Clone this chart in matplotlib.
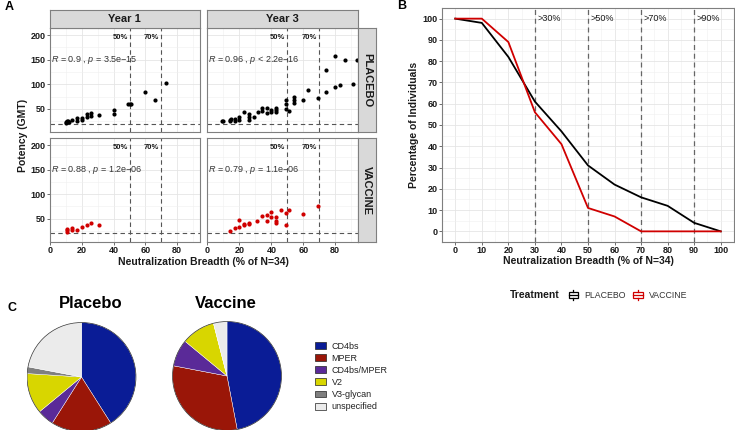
import numpy as np
import matplotlib
matplotlib.use('Agg')
import matplotlib.pyplot as plt
from matplotlib.patches import Patch, Rectangle, Circle
from matplotlib.lines import Line2D
from matplotlib.legend_handler import HandlerBase

plt.rcParams['font.family'] = ['Liberation Sans', 'DejaVu Sans']
plt.rcParams['mathtext.fontset'] = 'custom'
plt.rcParams['mathtext.rm'] = 'Liberation Sans'
plt.rcParams['mathtext.it'] = 'Liberation Sans:italic'

# --- panel A data (breadth %, potency GMT) ---
y1_pla_x = [10, 10, 10.5, 11, 11.5, 12, 14, 17, 17, 20, 20, 23, 23, 26, 26, 31, 40, 40, 49, 50, 51, 60, 66, 73]
y1_pla_y = [22, 24, 25, 23, 26, 24, 28, 31, 26, 32, 27, 39, 33, 41, 36, 38, 48, 40, 59, 59, 59, 85, 69, 102]
y3_pla_x = [9, 10, 14, 15, 14, 17, 17, 20, 20, 23, 26, 26, 26, 29, 31.5, 34, 34, 37, 37, 40, 40, 43, 43, 43,
            49, 49, 49, 51, 54, 54, 54, 60, 63, 69, 74, 74, 80, 80, 83, 86, 91, 93.5]
y3_pla_y = [25, 25, 27, 28.5, 25, 30, 26, 33, 27, 44, 40, 34, 27, 34, 43, 51, 45, 51, 42, 48, 44, 52, 48, 44,
            67, 60, 49, 45, 74, 67, 62, 69, 89, 73, 85, 129, 157, 94, 98, 149, 100, 149]
y1_vac_x = [11, 11, 11, 14, 14, 17, 20, 23, 26, 31]
y1_vac_y = [27, 24, 29, 31, 28, 27, 34, 38, 41, 38]
y3_vac_x = [14, 17, 20, 20, 23, 23, 26, 26, 31, 34, 37, 37, 40, 40, 43, 43, 43, 46, 49, 49, 51, 60, 69]
y3_vac_y = [26, 32, 34, 48, 37, 40, 39, 41, 46, 56, 58, 45, 63, 53, 53, 46, 41, 68, 62, 38, 67, 59, 75]
stat_labels = [["$R$ = 0.9 , $p$ = 3.5e\u221215", "$R$ = 0.96 , $p$ < 2.2e\u221216"],
               ["$R$ = 0.88 , $p$ = 1.2e\u221206", "$R$ = 0.79 , $p$ = 1.1e\u221206"]]
year_labels = ['Year 1', 'Year 3']
group_labels = ['PLACEBO', 'VACCINE']

# --- panel B data ---
breadth = [0, 10, 20, 30, 40, 50, 60, 70, 80, 90, 100]
pct_placebo = [100, 98, 82, 61, 47, 31, 22, 16, 12, 4, 0]
pct_vaccine = [100, 100, 89, 56, 41, 11, 7, 0, 0, 0, 0]
cut_lines = [30, 50, 70, 90]

# --- panel C data ---
pie_labels = ['CD4bs', 'MPER', 'CD4bs/MPER', 'V2', 'V3-glycan', 'unspecified']
pie_placebo = [41, 18, 5, 12, 2, 22]
pie_vaccine = [47, 31, 8, 10, 0, 4]
pie_colors = ['#0A1C96', '#9A1608', '#5A2A98', '#D8D600', '#7F7F7F', '#EBEBEB']

RED = '#D00000'
BORDER = '#7F7F7F'
TXT = '#1A1A1A'

W, H = 735, 430
fig = plt.figure(figsize=(W / 100, H / 100), dpi=100)


def px_axes(x0, y0, x1, y1):
    return fig.add_axes([x0 / W, 1 - y1 / H, (x1 - x0) / W, (y1 - y0) / H])


def style_panel(ax):
    ax.set_facecolor('white')
    for s in ax.spines.values():
        s.set_color(BORDER)
        s.set_linewidth(0.8)
    ax.grid(True, which='major', color='#E5E5E5', lw=0.6)
    ax.grid(True, which='minor', color='#F0F0F0', lw=0.4)
    ax.set_axisbelow(True)
    ax.tick_params(which='major', length=2, width=0.6, color='#555555',
                   labelsize=6.5, labelcolor=TXT, pad=1)
    ax.tick_params(which='minor', length=0)
    for lab in ax.get_xticklabels() + ax.get_yticklabels():
        lab.set_fontweight('bold')


# ---------------- Panel A ----------------
cols = [(49.5, 200), (207, 358)]
rows = [(28.3, 132.4), (138.3, 242.3)]
data = [[(y1_pla_x, y1_pla_y), (y3_pla_x, y3_pla_y)],
        [(y1_vac_x, y1_vac_y), (y3_vac_x, y3_vac_y)]]
pt_colors = ['black', RED]

for r, (ry0, ry1) in enumerate(rows):
    for c, (cx0, cx1) in enumerate(cols):
        ax = px_axes(cx0, ry0, cx1, ry1)
        xs, ys = data[r][c]
        ax.scatter(xs, ys, s=9, color=pt_colors[r], lw=0, zorder=3)
        ax.axhline(20, color='#555555', ls=(0, (4, 3)), lw=0.8, zorder=2)
        ax.axvline(50, color='#555555', ls=(0, (4, 3)), lw=0.8, zorder=2)
        ax.axvline(70, color='#555555', ls=(0, (4, 3)), lw=0.8, zorder=2)
        ax.text(48.8, 195, '50%', ha='right', va='center', fontsize=5.5, fontweight='bold', color=TXT)
        ax.text(68.8, 195, '70%', ha='right', va='center', fontsize=5.5, fontweight='bold', color=TXT)
        ax.text(0.6, 150, stat_labels[r][c], ha='left', va='center', fontsize=6.5, color='#333333')
        ax.set_xlim(-0.3, 94.3)
        ax.set_ylim(2, 214)
        ax.set_xticks([0, 20, 40, 60, 80])
        ax.set_xticks([10, 30, 50, 70, 90], minor=True)
        ax.set_yticks([50, 100, 150, 200])
        ax.set_yticks([25, 75, 125, 175], minor=True)
        style_panel(ax)
        if r == 0:
            ax.tick_params(axis='x', which='both', bottom=False, labelbottom=False)
        if c == 1:
            ax.tick_params(axis='y', which='both', left=False, labelleft=False)

# strips
for c, (cx0, cx1) in enumerate(cols):
    sa = px_axes(cx0, 10, cx1, 28.3)
    sa.set_facecolor('#D9D9D9')
    sa.set_xticks([])
    sa.set_yticks([])
    for s in sa.spines.values():
        s.set_color(BORDER)
        s.set_linewidth(0.8)
    sa.text(0.5, 0.5, year_labels[c], ha='center', va='center', fontsize=8,
            fontweight='bold', color=TXT, transform=sa.transAxes)
for r, (ry0, ry1) in enumerate(rows):
    sa = px_axes(358, ry0, 376, ry1)
    sa.set_facecolor('#D9D9D9')
    sa.set_xticks([])
    sa.set_yticks([])
    for s in sa.spines.values():
        s.set_color(BORDER)
        s.set_linewidth(0.8)
    sa.text(0.5, 0.5, group_labels[r], ha='center', va='center', fontsize=8,
            fontweight='bold', color=TXT, rotation=-90, transform=sa.transAxes)

fig.text(23 / W, 1 - 135 / H, 'Potency (GMT)', rotation=90, ha='center', va='center',
         fontsize=7.5, fontweight='bold', color=TXT)
fig.text(203.5 / W, 1 - 262 / H, 'Neutralization Breadth (% of N=34)', ha='center', va='center',
         fontsize=7.5, fontweight='bold', color=TXT)

# ---------------- Panel B ----------------
axb = px_axes(442, 8, 734, 242)
axb.plot(breadth, pct_placebo, color='black', lw=1.3, zorder=4)
axb.plot(breadth, pct_vaccine, color=RED, lw=1.3, zorder=4)
for v in cut_lines:
    axb.axvline(v, color='#666666', ls=(0, (4, 3)), lw=0.9, zorder=3)
    axb.text(v + 0.8, 100, '>%d%%' % v, ha='left', va='center', fontsize=6.5, color=TXT)
axb.set_xlim(-5, 105)
axb.set_ylim(-5, 105)
axb.set_xticks(breadth)
axb.set_xticks(np.arange(5, 100, 10), minor=True)
axb.set_yticks(np.arange(0, 101, 10))
axb.set_yticks(np.arange(5, 100, 10), minor=True)
style_panel(axb)
fig.text(414 / W, 1 - 125 / H, 'Percentage of Individuals', rotation=90, ha='center', va='center',
         fontsize=7.5, fontweight='bold', color=TXT)
fig.text(588 / W, 1 - 261 / H, 'Neutralization Breadth (% of N=34)', ha='center', va='center',
         fontsize=7.5, fontweight='bold', color=TXT)


class BoxKey(HandlerBase):
    def create_artists(self, legend, orig_handle, xdescent, ydescent, width, height, fontsize, trans):
        col = orig_handle.get_edgecolor()
        x0, y0 = -xdescent, -ydescent
        box = Rectangle((x0 + 0.1 * width, y0 + 0.22 * height), 0.8 * width, 0.56 * height,
                        facecolor='white', edgecolor=col, lw=0.9, transform=trans)
        med = Line2D([x0 + 0.1 * width, x0 + 0.9 * width], [y0 + 0.5 * height] * 2,
                     color=col, lw=0.9, transform=trans)
        up = Line2D([x0 + 0.5 * width] * 2, [y0 + 0.78 * height, y0 + 1.0 * height],
                    color=col, lw=0.9, transform=trans)
        dn = Line2D([x0 + 0.5 * width] * 2, [y0, y0 + 0.22 * height],
                    color=col, lw=0.9, transform=trans)
        return [box, med, up, dn]


fig.text(510 / W, 1 - 295 / H, 'Treatment', ha='left', va='center', fontsize=7.5,
         fontweight='bold', color=TXT)
tr_handles = [Patch(facecolor='white', edgecolor='black'), Patch(facecolor='white', edgecolor=RED)]
fig.legend(tr_handles, ['PLACEBO', 'VACCINE'], handler_map={Patch: BoxKey()},
           loc='center left', bbox_to_anchor=(563 / W, 1 - 295 / H), ncol=2, frameon=False,
           fontsize=6.3, handlelength=1.35, handleheight=1.35, handletextpad=0.6, columnspacing=0.7,
           borderpad=0, labelcolor='#333333')

# ---------------- Panel C ----------------
pie_axes = [px_axes(26.5, 322, 136.5, 432), px_axes(172, 321, 282, 431)]
pie_vals = [pie_placebo, pie_vaccine]
pie_titles = ['Placebo', 'Vaccine']
pie_title_x = [91, 226]
for axp, vals, ttl, tx in zip(pie_axes, pie_vals, pie_titles, pie_title_x):
    axp.pie(vals, colors=pie_colors, startangle=90, counterclock=False, radius=1,
            wedgeprops=dict(edgecolor='white', linewidth=0.3))
    axp.add_patch(Circle((0, 0), 1, facecolor='none', edgecolor='#333333', lw=0.5))
    axp.set_xlim(-1.01, 1.01)
    axp.set_ylim(-1.01, 1.01)
    axp.axis('off')
    fig.text(tx / W, 1 - 303 / H, ttl, ha='center', va='center', fontsize=12,
             fontweight='bold', color='black')

pie_handles = [Patch(facecolor=col, edgecolor='#222222', lw=0.5) for col in pie_colors]
fig.legend(pie_handles, pie_labels, loc='upper left', bbox_to_anchor=(310 / W, 1 - 337 / H),
           frameon=False, fontsize=6.5, handlelength=1.3, handleheight=0.8, labelspacing=0.35,
           handletextpad=0.6, borderpad=0, labelcolor='#222222')

# panel letters
fig.text(5 / W, 1 - 7 / H, 'A', ha='left', va='center', fontsize=9, fontweight='bold')
fig.text(397 / W, 1 - 6 / H, 'B', ha='left', va='center', fontsize=9, fontweight='bold')
fig.text(7 / W, 1 - 308 / H, 'C', ha='left', va='center', fontsize=9, fontweight='bold')

fig.savefig('out.png', dpi=100)
